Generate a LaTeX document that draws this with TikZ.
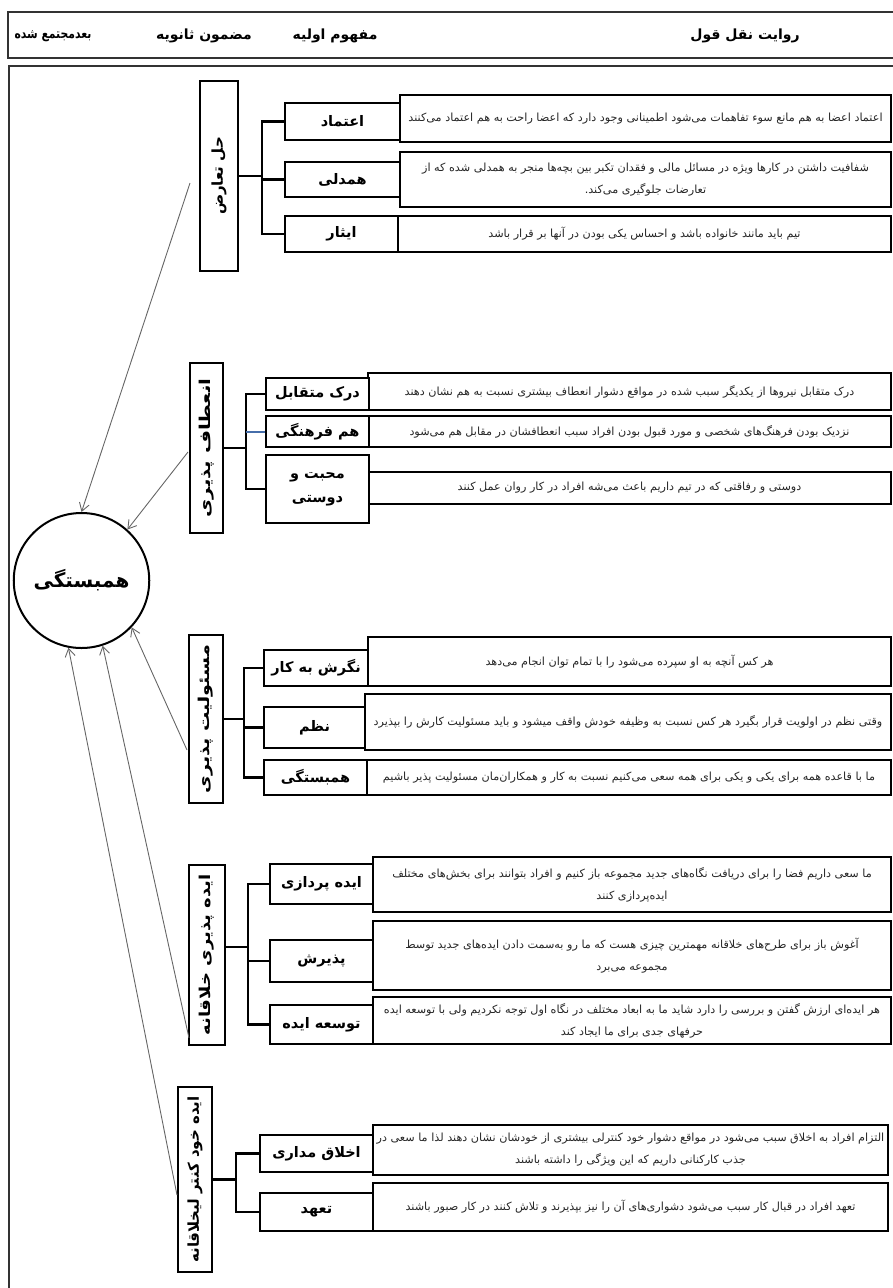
\documentclass[tikz,border=0pt]{standalone}
\usepackage{fontspec}
\usepackage{graphicx}
\usetikzlibrary{arrows.meta,shapes.geometric}
\newfontfamily\fa[Script=Arabic]{DejaVu Sans}
\TeXXeTstate=1
\newcommand{\vtext}[2]{\rotatebox{90}{\scalebox{#1}[1]{#2}}}
\definecolor{brblue}{RGB}{70,110,170}
\newcommand{\bx}[7]{\node[#1, minimum width={#5-#3}, minimum height={#6-#4}] (#2) at ({(#3+#5)/2},{(#4+#6)/2}) {#7};}
\tikzset{
  hdr/.style={font=\fa\bfseries\fontsize{14}{16}\selectfont, inner sep=0},
  cat/.style={draw, line width=2.4pt, inner sep=0, font=\fa\bfseries\fontsize{15}{17}\selectfont},
  lbl/.style={draw, line width=2.4pt, fill=white, inner sep=0, align=center, font=\fa\bfseries\fontsize{14.5}{24}\selectfont},
  desc/.style={draw, line width=1.8pt, inner sep=0, align=center, text=black!85, font=\fa\fontsize{11.2}{22}\selectfont},
  tree/.style={line width=2.4pt, line cap=rect},
  frame/.style={line width=1.8pt, draw=black!80},
  arr/.style={draw=black!60, line width=0.9pt, -{Straight Barb[length=8pt,width=10pt]}}
}
\begin{document}
\begin{tikzpicture}[x=1pt,y=-1pt]
\useasboundingbox (0,0) rectangle (893,1288);
% frames
\draw[frame] (8,12) rectangle (905,58);
\draw[frame] (9,66) rectangle (905,1300);
\node[hdr, font=\fa\bfseries\fontsize{13.5}{16}\selectfont] (h1) at (53,36) {\scalebox{0.8}[1]{\beginR بعدمجتمع شده\endR}};
\node[hdr] (h2) at (204,36) {\beginR مضمون ثانویه\endR};
\node[hdr] (h3) at (335,36) {\beginR مفهوم اولیه\endR};
\node[hdr] (h4) at (745,36) {\beginR روایت نقل قول\endR};

% central circle
\node[draw, ellipse, line width=2pt, minimum width=127, minimum height=135, inner sep=0,
      font=\fa\bfseries\fontsize{20}{24}\selectfont] (c) at (81.5,580.5) {\beginR همبستگی\endR};

% ---------- group 1
\bx{cat}{cat1}{200}{81}{238}{271}{\vtext{1.0}{\beginR حل تعارض\endR}}
\bx{desc}{d11}{400}{95}{891}{142}{\beginR اعتماد اعضا به هم مانع سوء تفاهمات می‌شود اطمینانی وجود دارد که اعضا راحت به هم اعتماد می‌کنند\endR}
\bx{desc}{d12}{400}{152}{891}{207}{\beginR شفافیت داشتن در کارها ویژه در مسائل مالی و فقدان تکبر بین بچه‌ها منجر به همدلی شده که از\endR\\\beginR تعارضات جلوگیری می‌کند.\endR}
\bx{desc}{d13}{398}{216}{891}{252}{\beginR تیم باید مانند خانواده باشد و احساس یکی بودن در آنها بر قرار باشد\endR}
\bx{lbl}{l11}{285}{103}{400}{140}{\beginR اعتماد\endR}
\bx{lbl}{l12}{285}{162}{400}{197}{\beginR همدلی\endR}
\bx{lbl}{l13}{285}{216}{398}{252}{\beginR ایثار\endR}
\coordinate (j1) at (262,176);
\draw[tree] (cat1.east) -- (cat1.east -| j1);
\draw[tree] (l11.west) -| (j1);
\draw[tree] (l12.west) -| (j1);
\draw[tree] (l13.west) -| (j1);

% ---------- group 2
\bx{cat}{cat2}{190}{363}{223}{533}{\vtext{1.32}{\beginR انعطاف پذیری\endR}}
\bx{desc}{d21}{368}{373}{891}{410}{\beginR درک متقابل نیروها از یکدیگر سبب شده در مواقع دشوار انعطاف بیشتری نسبت به هم نشان دهند\endR}
\bx{desc}{d22}{368}{416}{891}{447}{\beginR نزدیک بودن فرهنگ‌های شخصی و مورد قبول بودن افراد سبب انعطافشان در مقابل هم می‌شود\endR}
\bx{desc}{d23}{368}{472}{891}{504}{\beginR دوستی و رفاقتی که در تیم داریم باعث می‌شه افراد در کار روان عمل کنند\endR}
\bx{lbl}{l21}{266}{378}{369}{410}{\beginR درک متقابل\endR}
\bx{lbl}{l22}{266}{416}{369}{447}{\beginR هم فرهنگی\endR}
\bx{lbl}{l23}{266}{455}{369}{523}{\beginR محبت و\endR\\\beginR دوستی\endR}
\coordinate (j2) at (246,448);
\draw[tree] (cat2.east) -- (cat2.east -| j2);
\draw[tree] (l21.west) -| (j2);
\draw[tree] (l23.west) -| (j2);
\draw[line width=2pt, draw=brblue] (l22.west) -- (l22.west -| j2);

% ---------- group 3
\bx{cat}{cat3}{189}{635}{223}{803}{\vtext{1.28}{\beginR مسئولیت پذیری\endR}}
\bx{desc}{d31}{368}{637}{891}{686}{\beginR هر کس آنچه به او سپرده می‌شود را با تمام توان انجام می‌دهد\endR}
\bx{desc}{d32}{365}{694}{891}{750}{\beginR وقتی نظم در اولویت قرار بگیرد هر کس نسبت به وظیفه خودش واقف میشود و باید مسئولیت کارش را بپذیرد\endR}
\bx{desc}{d33}{367}{760}{891}{795}{\beginR ما با قاعده همه برای یکی و یکی برای همه سعی می‌کنیم نسبت به کار و همکاران‌مان مسئولیت پذیر باشیم\endR}
\bx{lbl}{l31}{264}{650}{368}{686}{\beginR نگرش به کار\endR}
\bx{lbl}{l32}{264}{707}{365}{748}{\beginR نظم\endR}
\bx{lbl}{l33}{264}{760}{367}{795}{\beginR همبستگی\endR}
\coordinate (j3) at (244,719);
\draw[tree] (cat3.east) -- (cat3.east -| j3);
\draw[tree] (l31.west) -| (j3);
\draw[tree] (l32.west) -| (j3);
\draw[tree] (l33.west) -| (j3);

% ---------- group 4
\bx{cat}{cat4}{189}{865}{225}{1045}{\vtext{1.2}{\beginR ایده پذیری خلاقانه\endR}}
\bx{desc}{d41}{373}{857}{891}{912}{\beginR ما سعی داریم فضا را برای دریافت نگاه‌های جدید مجموعه باز کنیم و افراد بتوانند برای بخش‌های مختلف\endR\\\beginR ایده‌پردازی کنند\endR}
\bx{desc}{d42}{373}{921}{891}{990}{\beginR آغوش باز برای طرح‌های خلاقانه مهمترین چیزی هست که ما رو به‌سمت دادن ایده‌های جدید توسط\endR\\\beginR مجموعه می‌برد\endR}
\bx{desc}{d43}{373}{997}{891}{1044}{\beginR هر ایده‌ای ارزش گفتن و بررسی را دارد شاید ما به ابعاد مختلف در نگاه اول توجه نکردیم ولی با توسعه ایده\endR\\\beginR حرفهای جدی برای ما ایجاد کند\endR}
\bx{lbl}{l41}{270}{864}{373}{904}{\beginR ایده پردازی\endR}
\bx{lbl}{l42}{270}{940}{373}{982}{\beginR پذیرش\endR}
\bx{lbl}{l43}{270}{1005}{373}{1044}{\beginR توسعه ایده\endR}
\coordinate (j4) at (248,947);
\draw[tree] (cat4.east |- j4) -- (j4);
\draw[tree] (l41.west) -| (j4);
\draw[tree] (l42.west) -| (j4);
\draw[tree] (l43.west) -| (j4);

% ---------- group 5
\bx{cat}{cat5}{178}{1087}{212}{1272}{\vtext{1.0}{\beginR ایده خود کنتر لیخلاقانه\endR}}
\bx{desc}{d51}{373}{1125}{888}{1175}{\beginR التزام افراد به اخلاق سبب می‌شود در مواقع دشوار خود کنترلی بیشتری از خودشان نشان دهند لذا ما سعی در\endR\\\beginR جذب کارکنانی داریم که این ویژگی را داشته باشند\endR}
\bx{desc}{d52}{373}{1183}{888}{1231}{\beginR تعهد افراد در قبال کار سبب می‌شود دشواری‌های آن را نیز بپذیرند و تلاش کنند در کار صبور باشند\endR}
\bx{lbl}{l51}{260}{1135}{373}{1172}{\beginR اخلاق مداری\endR}
\bx{lbl}{l52}{260}{1193}{373}{1231}{\beginR تعهد\endR}
\coordinate (j5) at (236,1179);
\draw[tree] (cat5.east) -- (cat5.east -| j5);
\draw[tree] (l51.west) -| (j5);
\draw[tree] (l52.west) -| (j5);

% ---------- arrows to the centre
\coordinate (s1) at (190,183);
\coordinate (s2) at (188,452);
\coordinate (s3) at (187,750);
\coordinate (s4) at (189,1038);
\coordinate (s5) at (177,1195);
\draw[arr] (s1) -- (c.90);
\draw[arr] (s2) -- (c.48);
\draw[arr] (s3) -- (c.-43);
\draw[arr] (s4) -- (c.-72);
\draw[arr] (s5) -- (c.-101);
\end{tikzpicture}
\end{document}
